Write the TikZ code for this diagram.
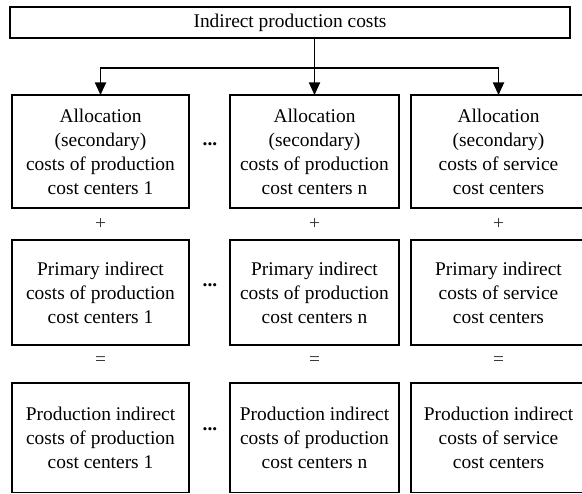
\documentclass[tikz,border=0pt]{standalone}
\usepackage{fontspec}
\setmainfont{Liberation Serif}
\usetikzlibrary{arrows.meta}

\begin{document}
\begin{tikzpicture}[x=0.025cm, y=-0.025cm, >={Triangle[width=8pt,length=9pt]},
	box/.style={draw, line width=1pt, inner sep=0pt, outer sep=0pt, align=center,
		font=\fontsize{13.8}{17}\selectfont},
	sign/.style={font=\fontsize{13.8}{17}\selectfont, text=black!80}]
			\useasboundingbox (0,0) rectangle (582,493);
			\clip (0,0) rectangle (582,493);

			% Top box
			\node[box, minimum width=14cm, minimum height=0.775cm] (top) at (290,22.5) {Indirect production costs};

			% Allocation row
			\node[box, minimum width=4.425cm, minimum height=2.825cm] (a1) at (100.5,151.5) {Allocation\\(secondary)\\costs of production\\cost centers 1};
			\node[box, minimum width=4.225cm, minimum height=2.825cm] (a2) at (314.5,151.5) {Allocation\\(secondary)\\costs of production\\cost centers n};
			\node[box, minimum width=4.375cm, minimum height=2.825cm] (a3) at (498.5,151.5) {Allocation\\(secondary)\\costs of service\\cost centers};

			% Primary row
			\node[box, minimum width=4.425cm, minimum height=2.625cm] (p1) at (100.5,292.5) {Primary indirect\\costs of production\\cost centers 1};
			\node[box, minimum width=4.225cm, minimum height=2.625cm] (p2) at (314.5,292.5) {Primary indirect\\costs of production\\cost centers n};
			\node[box, minimum width=4.375cm, minimum height=2.625cm] (p3) at (498.5,292.5) {Primary indirect\\costs of service\\cost centers};

			% Result row
			\node[box, minimum width=4.425cm, minimum height=2.7375cm] (r1) at (100.5,437.75) {Production indirect\\costs of production\\cost centers 1};
			\node[box, minimum width=4.225cm, minimum height=2.7375cm] (r2) at (314.5,437.75) {Production indirect\\costs of production\\cost centers n};
			\node[box, minimum width=4.375cm, minimum height=2.7375cm] (r3) at (498.5,437.75) {Production indirect\\costs of service\\cost centers};

			% Signs between the rows
			\node[sign] (plus1) at (100.5,224) {+};
			\node[sign] (plus2) at (314.5,224) {+};
			\node[sign] (plus3) at (498.5,224) {+};
			\node[sign] (eq1) at (100.5,361) {=};
			\node[sign] (eq2) at (314.5,361) {=};
			\node[sign] (eq3) at (498.5,361) {=};

			% Dots between the first and the second column
			\node[font=\fontsize{13.8}{17}\selectfont\bfseries] (dots1) at (210,144) {...};
			\node[font=\fontsize{13.8}{17}\selectfont\bfseries] (dots2) at (210,285) {...};
			\node[font=\fontsize{13.8}{17}\selectfont\bfseries] (dots3) at (210,429) {...};

			% Arrows from the top box
			\coordinate (bus) at (0,68);
			\draw[->, line width=1pt] (top.south -| a2.north) -- (a2.north);
			\draw[->, line width=1pt] (bus -| a2.north) -| (a1.north);
			\draw[->, line width=1pt] (bus -| a2.north) -| (a3.north);
		\end{tikzpicture}
\end{document}
